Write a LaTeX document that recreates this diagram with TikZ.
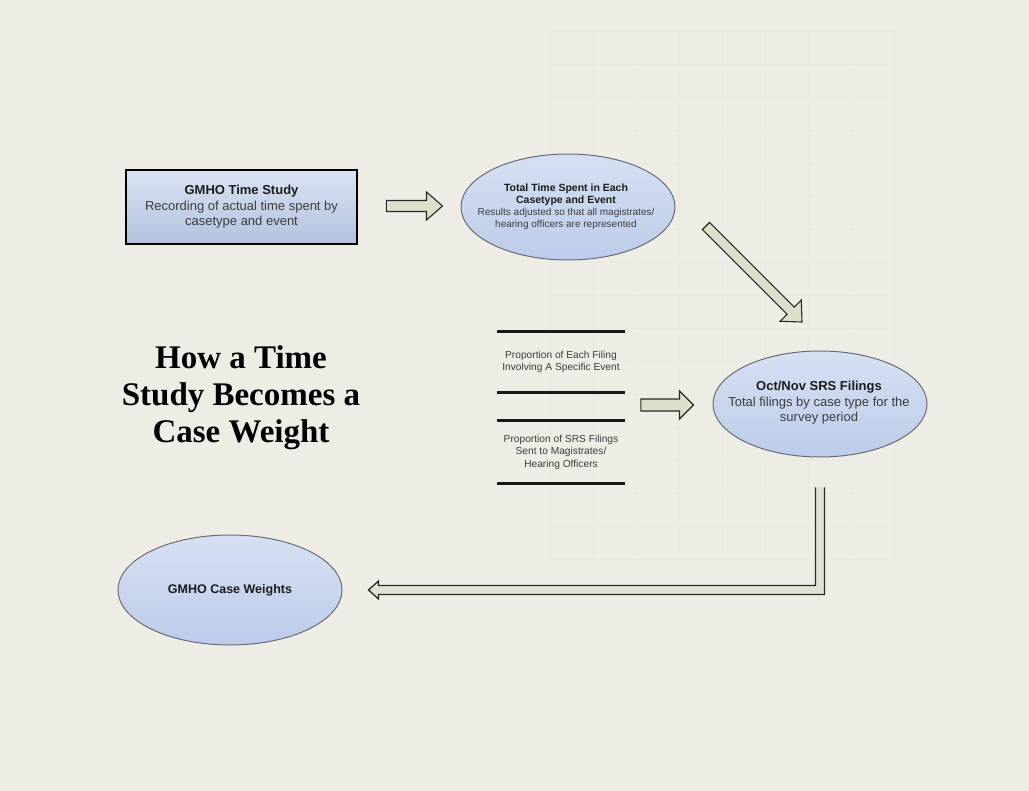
\documentclass[tikz,border=0pt]{standalone}
\usepackage{fontspec}
\setmainfont{Liberation Sans}
\newfontfamily\titlefont{Liberation Serif}
\usetikzlibrary{calc,shapes.geometric}

\definecolor{bg}{RGB}{237,237,230}
\definecolor{gridc}{RGB}{232,233,226}
\definecolor{fillA}{RGB}{214,224,242}
\definecolor{fillB}{RGB}{188,203,233}
\definecolor{ellline}{RGB}{105,108,118}
\definecolor{arrfill}{RGB}{221,222,204}
\definecolor{arrline}{RGB}{40,40,36}
\definecolor{txt}{RGB}{60,60,62}
\definecolor{txtb}{RGB}{28,28,30}

\newcommand{\blockarr}[5]{%
  \coordinate (hb) at ($(#2)!#5!(#1)$);
  \draw[barrow] ($(#1)!#3!90:(#2)$) -- ($(hb)!#3!90:(#2)$) -- ($(hb)!#4!90:(#2)$) -- (#2)
    -- ($(hb)!#4!-90:(#2)$) -- ($(hb)!#3!-90:(#2)$) -- ($(#1)!#3!-90:(#2)$) -- cycle;}
\newcommand{\smallreg}{\fontsize{10}{12.4}\selectfont\mdseries\color{txt}}
\newcommand{\smallbold}{\fontsize{10.5}{12.4}\selectfont\bfseries\color{txtb}}

\begin{document}
\begin{tikzpicture}[x=1pt,y=-1pt,
  ell/.style={ellipse, draw=ellline, line width=1pt, top color=fillA, bottom color=fillB, inner sep=0pt},
  boxnode/.style={rectangle, draw=black, line width=2.6pt, top color=fillA!90!white, bottom color=fillB!95!black, inner sep=0pt},
  lbl/.style={align=center, text=txt, inner sep=0pt},
  barrow/.style={draw=arrline, fill=arrfill, line width=1.1pt, line join=miter},
  rule/.style={line width=2.6pt, draw=black!90}]

% background
\fill[bg] (0,0) rectangle (1029,791);
\useasboundingbox (0,0) rectangle (1029,791);
\foreach \gx in {550,593,636,679,722,765,808,851,894}
  \draw[gridc, line width=0.8pt] (\gx,31) -- (\gx,560);
\foreach \gy in {31,64,97,130,163,196,229,262,295,328,361,394,427,460,493,526,559}
  \draw[gridc, line width=0.8pt] (550,\gy) -- (894,\gy);

% GMHO time study box
\node[boxnode, minimum width=231, minimum height=74] (gm) at (241.5,207) {};
\node[lbl, font=\fontsize{13}{15.5}\selectfont] (gmt) at (gm) {\textcolor{txtb}{\bfseries GMHO Time Study}\\Recording of actual time spent by\\casetype and event};

% total time ellipse
\node[ell, minimum width=214, minimum height=106] (tt) at (568,207) {};
\node[lbl] (ttt) at (566,206.5) {\smallbold Total Time Spent in Each\\\smallbold Casetype and Event\\\smallreg Results adjusted so that all magistrates/\\\smallreg hearing officers are represented};

% title
\node[align=center, inner sep=0pt, text=black, font=\titlefont\bfseries\fontsize{33}{37}\selectfont] (title) at (241,398) {How a Time\\Study Becomes a\\Case Weight};

% proportions block
\draw[rule] (497,331.5) -- (625,331.5);
\draw[rule] (497,392.5) -- (625,392.5);
\draw[rule] (497,420.5) -- (625,420.5);
\draw[rule] (497,483.5) -- (625,483.5);
\node[lbl, font=\fontsize{10.2}{12.5}\selectfont] (p1) at (561,362) {Proportion of Each Filing\\Involving A Specific Event};
\node[lbl, font=\fontsize{10.2}{12.5}\selectfont] (p2) at (561,452) {Proportion of SRS Filings\\Sent to Magistrates/\\Hearing Officers};

% SRS ellipse
\node[ell, minimum width=214, minimum height=106] (srs) at (820,404) {};
\node[lbl, font=\fontsize{13}{15.5}\selectfont] (srst) at (819,403) {\textcolor{txtb}{\bfseries Oct/Nov SRS Filings}\\Total filings by case type for the\\survey period};

% case weights ellipse
\node[ell, minimum width=224, minimum height=110] (cw) at (230,590) {};
\node[lbl, font=\fontsize{12.5}{15}\selectfont\bfseries, text=txtb] (cwt) at (cw) {GMHO Case Weights};

% block arrows
\coordinate (a1s) at ($(gm.east)+(28,-1)$);
\coordinate (a1e) at ($(tt.west)+(-18,-1)$);
\blockarr{a1s}{a1e}{5.5pt}{14pt}{16pt}

\coordinate (a2s) at (706,226);
\coordinate (a2e) at (802,322);
\blockarr{a2s}{a2e}{5pt}{15pt}{16pt}

\coordinate (a3s) at ($(p1.east)+(21,43)$);
\coordinate (a3e) at ($(srs.west)+(-19,1)$);
\blockarr{a3s}{a3e}{6pt}{14pt}{14pt}

% L-shaped return arrow
\coordinate (Ltop) at ($(srs.south)+(0,30)$);
\coordinate (Ltip) at ($(cw.east)+(26,0)$);
\coordinate (Lc) at (Ltop |- Ltip);
\fill[arrfill!70!bg] ($(Ltop)+(-4.5,0)$) -- ($(Lc)+(-4.5,-4.5)$) -- ($(Ltip)+(10,-4.5)$) -- ($(Ltip)+(10,-9)$) -- (Ltip)
  -- ($(Ltip)+(10,9)$) -- ($(Ltip)+(10,4.5)$) -- ($(Lc)+(4.5,4.5)$) -- ($(Ltop)+(4.5,0)$) -- cycle;
\draw[draw=arrline, line width=1.3pt, line join=miter] ($(Ltop)+(-4.5,0)$) -- ($(Lc)+(-4.5,-4.5)$) -- ($(Ltip)+(10,-4.5)$) -- ($(Ltip)+(10,-9)$) -- (Ltip)
  -- ($(Ltip)+(10,9)$) -- ($(Ltip)+(10,4.5)$) -- ($(Lc)+(4.5,4.5)$) -- ($(Ltop)+(4.5,0)$);
\end{tikzpicture}
\end{document}
